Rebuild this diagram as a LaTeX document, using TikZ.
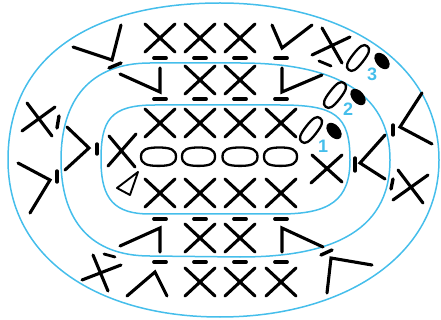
\documentclass[tikz,border=0pt]{standalone}
\usepackage{fontspec}
\setsansfont{Liberation Sans}
\definecolor{roundblue}{HTML}{45BEEB}
\newcommand{\fatoval}[2]{(-#1,0) .. controls (-#1,-0.75*#2) and (-0.7*#1,-#2) .. (0,-#2)
  .. controls (0.7*#1,-#2) and (#1,-0.75*#2) .. (#1,0)
  .. controls (#1,0.75*#2) and (0.7*#1,#2) .. (0,#2)
  .. controls (-0.7*#1,#2) and (-#1,0.75*#2) .. (-#1,0) -- cycle}
\tikzset{
  roundline/.style={draw=roundblue,line width=1.5pt},
  stitch/.style={draw=black,line width=3.1pt,line cap=round,line join=miter},
  chainoval/.style={draw=black,line width=2.3pt},
  bar/.style={draw=black,line width=3.8pt,line cap=round},
  roundlab/.style={text=roundblue,font=\sffamily\bfseries\fontsize{18}{18}\selectfont,inner sep=0pt}
}
\begin{document}
\begin{tikzpicture}[x=1pt,y=-1pt]
\useasboundingbox (0,0) rectangle (441,320);
% rounds
\draw[roundline] (8,160) .. controls (8,50) and (100,3) .. (220,3)
  .. controls (340,3) and (439,60) .. (439,160)
  .. controls (439,255) and (345,317) .. (220,317)
  .. controls (100,317) and (8,260) .. (8,160) -- cycle;
\draw[roundline] (61,160) .. controls (61,100) and (90,63) .. (150,63) -- (240,63)
  .. controls (330,63) and (390,90) .. (390,160)
  .. controls (390,235) and (325,257) .. (240,257) -- (150,256)
  .. controls (90,256) and (61,220) .. (61,160) -- cycle;
\draw[roundline] (101,160) .. controls (101,120) and (110,105) .. (155,105) -- (280,105)
  .. controls (335,105) and (350,115) .. (350,160)
  .. controls (350,200) and (330,214) .. (280,214) -- (150,214)
  .. controls (115,214) and (101,200) .. (101,160) -- cycle;
% crosses on the straight rows
\foreach \x/\y in {160/38,200/38,240/38,200/80,240/80,160/123,200/123,240/123,281/123,
  160/193,200/193,240/193,281/193,200/238,240/238,200/282,240/282,281/282}{
  \draw[stitch] (\x-15,\y-14) -- (\x+15,\y+14);
  \draw[stitch] (\x+15,\y-14) -- (\x-15,\y+14);
}
% bars over the rows
\foreach \x in {160,200,240,281}{
  \foreach \y in {58,99,219,262}{
    \draw[bar] (\x-6,\y) -- (\x+6,\y);
  }
}
% long chain
\foreach \x/\w in {158.5/17.5,198.5/16.5,240/17.5,280.5/16.5}{
  \draw[chainoval,shift={(\x,156.7)}] \fatoval{\w}{9.2};
}
% crosses round the turns
\draw[stitch] (109,136) -- (135,167) (136,134) -- (108,166);
\draw[stitch] (312,155) -- (342,182) (342,155) -- (311,183);
\draw[stitch] (398,170) -- (423,203) (393,200) -- (428,175);
\draw[stitch] (322,28) -- (342,63) (312,55) -- (350,37);
\draw[stitch] (27,103) -- (52,136) (22,131) -- (55,107);
\draw[stitch] (93,255) -- (108,291) (82,280) -- (121,265);
% v shapes
\draw[stitch] (73,47) -- (112,60) -- (121,25);
\draw[stitch] (120,74) -- (160,92) -- (160,68);
\draw[stitch] (272,25) -- (282,48) -- (312,25);
\draw[stitch] (282,68) -- (282,92) -- (322,75);
\draw[stitch] (67,127) -- (89,148) -- (65,170);
\draw[stitch] (18,163) -- (50,180) -- (30,213);
\draw[stitch] (120,246) -- (160,228) -- (160,252);
\draw[stitch] (127,296) -- (155,272) -- (167,296);
\draw[stitch] (282,252) -- (282,228) -- (323,247);
\draw[stitch] (327,293) -- (331,258) -- (372,265);
\draw[stitch] (422,93) -- (400,127) -- (432,144);
\draw[stitch] (385,135) -- (360,163) -- (385,179);
% single bars
\draw[bar,line width=3.4pt] (109,68) -- (121,63);
\draw[bar,line width=2.8pt] (319,61) -- (331,66);
\draw[bar,line width=3.4pt] (59,116) -- (57,128);
\draw[bar,line width=3.4pt] (97,144) -- (97,154);
\draw[bar,line width=3.4pt] (57,171) -- (57,182);
\draw[bar,line width=2.8pt] (104,254) -- (115,257);
\draw[bar,line width=3.4pt] (321,255) -- (332,250);
\draw[bar,line width=3.4pt] (393,125) -- (393,135);
\draw[bar,line width=3.4pt] (355,158) -- (355,171);
\draw[bar,line width=3.4pt] (393,179) -- (391,189);
% start mark
\draw[black,line width=1.9pt,line join=round] (138,172) -- (117,188) -- (130,195) -- cycle;
% turning chains
\foreach \ox/\oy/\dx/\dy/\lx/\ly/\lab in {311/130/334/131/323/146/1,335/95/358/97/348/109/2,358/58/382/61/372/74/3}{
  \draw[chainoval,shift={(\ox,\oy)},rotate=-38] \fatoval{6}{15};
  \fill (\dx,\dy) ellipse [x radius=9.5pt,y radius=6pt,rotate=-50];
  \node[roundlab] (lab\lab) at (\lx,\ly) {\lab};
}
\end{tikzpicture}
\end{document}
